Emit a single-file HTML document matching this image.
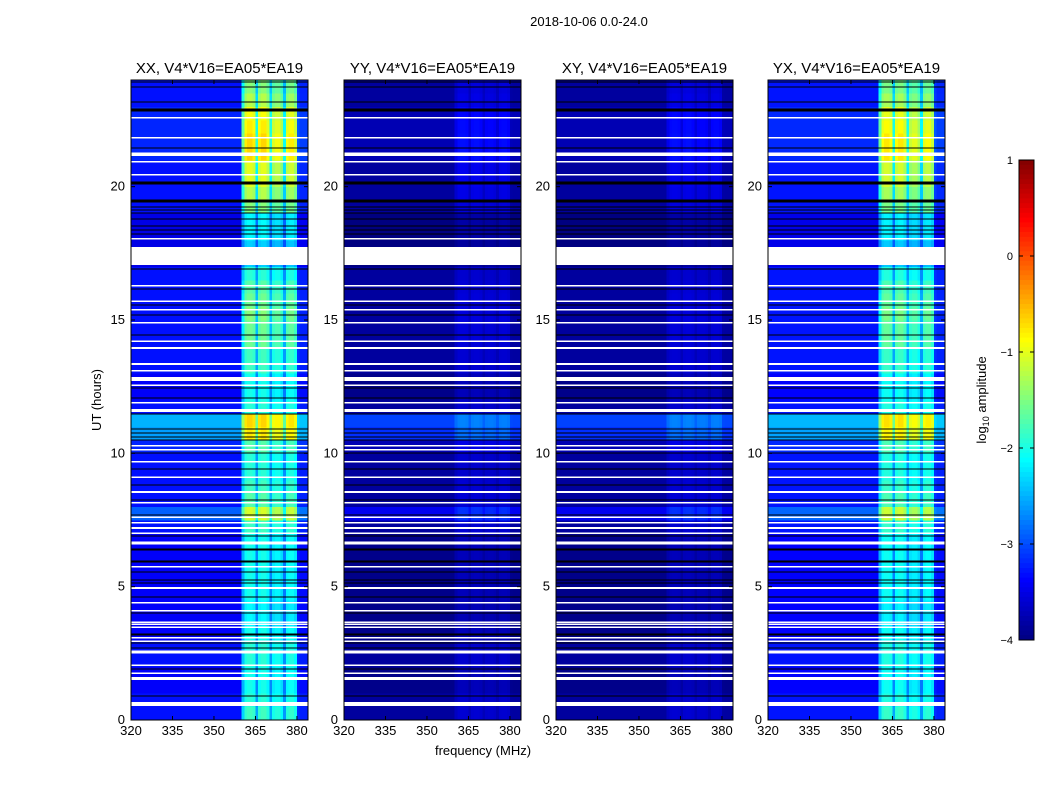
<!DOCTYPE html>
<html><head><meta charset="utf-8"><style>
body{margin:0;background:#fff;}
svg{display:block;font-family:"Liberation Sans",sans-serif;}
</style></head><body>
<svg id="fig" width="1050" height="800" viewBox="0 0 1050 800">
<rect width="1050" height="800" fill="#fff"/>
<text x="589" y="26" font-size="13" text-anchor="middle">2018-10-06 0.0-24.0</text>
<text transform="translate(101,400) rotate(-90)" font-size="13" text-anchor="middle">UT (hours)</text>
<text x="483" y="755" font-size="13" text-anchor="middle">frequency (MHz)</text>
<text transform="translate(986,400) rotate(-90)" font-size="13" text-anchor="middle">log<tspan font-size="9" dy="3">10</tspan><tspan dy="-3"> amplitude</tspan></text>
<g id="panels"></g>
<g id="cbar"></g>
</svg>
<script>
const panelTitles=["XX, V4*V16=EA05*EA19","YY, V4*V16=EA05*EA19","XY, V4*V16=EA05*EA19","YX, V4*V16=EA05*EA19"];
const panelLeft=[131,344,556,768];
const polOffset=[-0.3,-0.85,-0.85,-0.28];
const polScale=[1.15,0.2,0.2,1.1];
const yTicks=[0,5,10,15,20];
const xTicks=[320,335,350,365,380];
const cbTicks=[1,0,-1,-2,-3,-4];
// row level (log10 amp) per half hour, 0..24h
const rowLevel=[-3.0,-3.0,-3.1,-3.1,-3.0,-3.0,-3.1,-3.1,-3.1,-3.1,-3.1,-3.1,-3.1,-3.1,-3.0,-2.6,
 -3.0,-3.0,-3.0,-3.0,-2.9,-2.3,-2.2,-3.0,-3.1,-3.1,-3.0,-3.0,-3.0,-3.0,-3.0,-3.0,
 -3.0,-3.0,-3.2,-3.2,-3.2,-3.2,-3.0,-3.0,-3.0,-3.0,-2.9,-2.9,-2.9,-2.9,-3.0,-3.0];
const rowGain=[0.65,0.6,0.6,0.6,0.6,0.6,0.6,0.55,0.55,0.6,0.6,0.6,0.6,0.6,0.65,0.8,
 0.7,0.65,0.6,0.6,0.65,0.8,0.8,0.6,0.6,0.6,0.65,0.65,0.75,0.75,0.8,0.75,
 0.7,0.6,0.5,0.5,0.6,0.6,0.8,0.9,1.0,1.0,1.1,1.1,1.05,1.0,0.9,0.8];
// spectral profile per 1 MHz, 320..383
const colProfile=[0,0,0,0,0,0,0,0,0,0,0,0,0,0,0,0,0,0,0,0,
 0,0,0,0,0,0,0,0,0,0,0,0,0,0,0,0,0,0,0,0,
 1.3,1.9,2.0,2.0,1.9,1.0,1.9,2.0,2.0,1.8,1.0,1.7,1.8,1.8,1.6,0.9,1.8,1.9,1.9,1.7,
 0.2,0.1,0.1,0.1];
const whiteGaps=[[22.55,22.62],[21.81,21.87],[21.15,21.28],[20.9,20.96],[20.41,20.47],[18.01,18.07],[17.06,17.74],
 [16.25,16.31],[15.68,15.74],[15.35,15.41],[14.86,14.92],[14.18,14.24],[13.92,13.98],[13.32,13.38],[13.06,13.12],
 [12.71,12.86],[12.53,12.59],[11.86,11.92],[11.55,11.66],[10.25,10.31],[10.1,10.16],[9.65,9.71],[9.08,9.14],
 [8.52,8.58],[8.11,8.17],[7.58,7.64],[7.36,7.42],[7.17,7.23],[6.98,7.04],[6.59,6.69],[5.71,5.77],[4.92,4.98],
 [4.36,4.42],[4.06,4.12],[3.65,3.7],[3.57,3.62],[3.46,3.51],[3.05,3.11],[2.93,2.99],[2.5,2.6],[2.03,2.09],
 [1.73,1.79],[1.5,1.61],[0.53,0.68]];
const blackGaps=[[23.91,23.95],[23.72,23.76],[23.16,23.2],[22.82,22.93],[21.43,21.47],[20.08,20.19],[19.41,19.52],
 [19.22,19.26],[19.11,19.15],[18.99,19.03],[18.77,18.81],[18.51,18.55],[18.36,18.4],[18.21,18.25],[16.89,16.93],
 [16.14,16.18],[15.54,15.58],[15.17,15.21],[14.42,14.46],[12.43,12.47],[12.06,12.1],[11.46,11.5],[10.89,10.93],
 [10.74,10.78],[10.59,10.63],[10.48,10.52],[9.99,10.03],[9.39,9.43],[8.79,8.83],[8.23,8.27],[7.67,7.71],
 [6.88,6.92],[6.36,6.43],[5.91,5.98],[5.53,5.57],[5.23,5.27],[5.12,5.16],[4.59,4.63],[3.99,4.03],[3.17,3.24],
 [2.87,2.91],[2.68,2.72],[1.89,1.93],[0.88,0.92]];

const NS="http://www.w3.org/2000/svg";
const top_=80,bot=720,pw=177;
const yS=h=>bot-(h/24)*(bot-top_);
const xS=(f,L)=>L+(f-320)*(pw/64);
function jet(v){let t=(v+4)/5;t=Math.max(0,Math.min(1,t));
 const c=x=>Math.round(255*Math.max(0,Math.min(1,x)));
 return `rgb(${c(1.5-Math.abs(4*t-3))},${c(1.5-Math.abs(4*t-2))},${c(1.5-Math.abs(4*t-1))})`;}
function mk(tag,attrs,parent){const e=document.createElementNS(NS,tag);for(const k in attrs)e.setAttribute(k,attrs[k]);parent.appendChild(e);return e;}
const panels=document.getElementById('panels');
panelLeft.forEach((L,p)=>{
 const g=mk('g',{},panels);
 
 
 const t=mk('text',{x:L+pw/2,y:73,'font-size':15,'text-anchor':'middle'},g);t.textContent=panelTitles[p];
 
 
 const hm=mk('g',{'shape-rendering':'crispEdges'},g);
 
 
 for(let r=0;r<rowLevel.length;r++){
  const h0=r*0.5,y0=yS(h0+0.5),y1=yS(h0);
  for(let c=0;c<colProfile.length;c++){
   const v=rowLevel[r]+polOffset[p]+colProfile[c]*rowGain[r]*polScale[p];
   const x0=xS(320+c,L),x1=xS(321+c,L);
   const cell=mk('rect',{x:x0,y:y0,width:x1-x0+0.3,height:y1-y0+0.3,fill:jet(v)},hm);
   
   
  }
 }
 blackGaps.forEach(([a,b])=>{const e=mk('rect',{x:L,y:yS(b),width:pw,height:Math.max(1,yS(a)-yS(b)),fill:'#000'},hm);
  
  });
 whiteGaps.forEach(([a,b])=>{const e=mk('rect',{x:L,y:yS(b),width:pw,height:Math.max(1.5,yS(a)-yS(b)),fill:'#fff'},hm);
  
  });
 mk('rect',{x:L,y:top_,width:pw,height:bot-top_,fill:'none',stroke:'#000','stroke-width':1},g);
 yTicks.forEach(v=>{const y=yS(v);
  mk('line',{x1:L,x2:L+4,y1:y,y2:y,stroke:'#000'},g);mk('line',{x1:L+pw,x2:L+pw-4,y1:y,y2:y,stroke:'#000'},g);
  const tx=mk('text',{x:L-6,y:y+4,'font-size':13,'text-anchor':'end'},g);tx.textContent=v;
  
  });
 xTicks.forEach(v=>{const x=xS(v,L);
  mk('line',{x1:x,x2:x,y1:bot,y2:bot-4,stroke:'#000'},g);mk('line',{x1:x,x2:x,y1:top_,y2:top_+4,stroke:'#000'},g);
  const tx=mk('text',{x:x,y:bot+15,'font-size':13,'text-anchor':'middle'},g);tx.textContent=v;
  
  });
});
// colorbar
const cb=document.getElementById('cbar');


const cbX=1019,cbW=15,cbT=160,cbB=640;
const cbY=v=>cbT+(1-v)/5*(cbB-cbT);
for(let i=0;i<100;i++){const v=1-i*0.05;
 mk('rect',{x:cbX,y:cbY(v),width:cbW,height:(cbB-cbT)/100+0.5,fill:jet(v-0.025)},cb);}
mk('rect',{x:cbX,y:cbT,width:cbW,height:cbB-cbT,fill:'none',stroke:'#000'},cb);
cbTicks.forEach(v=>{const y=cbY(v);
 mk('line',{x1:cbX,x2:cbX+4,y1:y,y2:y,stroke:'#000'},cb);mk('line',{x1:cbX+cbW,x2:cbX+cbW-4,y1:y,y2:y,stroke:'#000'},cb);
 const tx=mk('text',{x:1013,y:y+4,'font-size':11,'text-anchor':'end'},cb);tx.textContent=v<0?'\u2212'+(-v):String(v);
 
 });
</script>
</body></html>
